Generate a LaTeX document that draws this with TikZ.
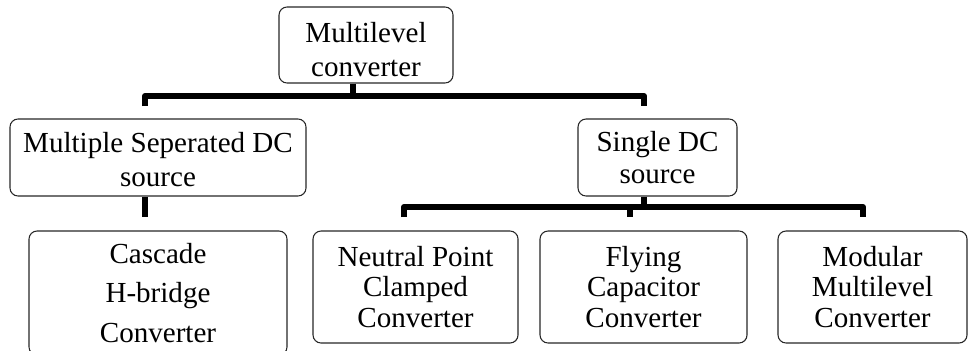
\documentclass[tikz,border=0pt]{standalone}
\usepackage{fontspec}
\setmainfont{Liberation Serif}
\begin{document}
\begin{tikzpicture}[x=0.75pt,y=-0.75pt,
  box/.style={draw=black!85,line width=0.8pt,rounded corners=6pt,align=center,
    font=\fontsize{21.8}{26}\selectfont,inner sep=0pt},
  bus/.style={line width=4.5pt,line join=round}]
\useasboundingbox (0,0) rectangle (969,350);
\clip (0,0) rectangle (969,350);
% boxes
\node[box,minimum width=130.5pt,minimum height=57pt,text height=48pt] (top) at (366,45) {Multilevel\\converter};
\node[box,minimum width=222pt,minimum height=57.75pt,text height=44pt] (msdc) at (158,157.5) {Multiple Seperated DC\\source};
\node[box,minimum width=119.25pt,minimum height=57.75pt,font=\fontsize{21.8}{24}\selectfont] (sdc) at (657.5,157.5) {Single DC\\source};
\node[box,minimum width=193.5pt,minimum height=93pt,font=\fontsize{21.8}{29.5}\selectfont] (chb) at (158,293) {Cascade\\H-bridge\\Converter};
\node[box,minimum width=153.75pt,minimum height=84pt,font=\fontsize{21.8}{23}\selectfont] (npc) at (415.5,287) {Neutral Point\\Clamped\\Converter};
\node[box,minimum width=155.25pt,minimum height=84pt,font=\fontsize{21.8}{23}\selectfont] (fc) at (643.5,287) {Flying\\Capacitor\\Converter};
\node[box,minimum width=141.75pt,minimum height=84pt,font=\fontsize{21.8}{23}\selectfont] (mmc) at (872.5,287) {Modular\\Multilevel\\Converter};
% connector points
\coordinate (b1) at (353,96);
\coordinate (j1) at (145,106);
\coordinate (j2) at (644,106);
\coordinate (b2) at (644,207);
\coordinate (d1) at (404,217);
\coordinate (d2) at (630,217);
\coordinate (d3) at (863,217);
\coordinate (d0) at (145,217);
% connectors
\draw[bus] (top.south -| b1) -- (b1);
\draw[bus] (j1) -- (j1 |- b1) -- (j2 |- b1) -- (j2);
\draw[bus] (msdc.south -| d0) -- (d0);
\draw[bus] (sdc.south -| b2) -- (b2);
\draw[bus] (d1) -- (d1 |- b2) -- (d3 |- b2) -- (d3);
\draw[bus] (d2 |- b2) -- (d2);
\end{tikzpicture}
\end{document}
